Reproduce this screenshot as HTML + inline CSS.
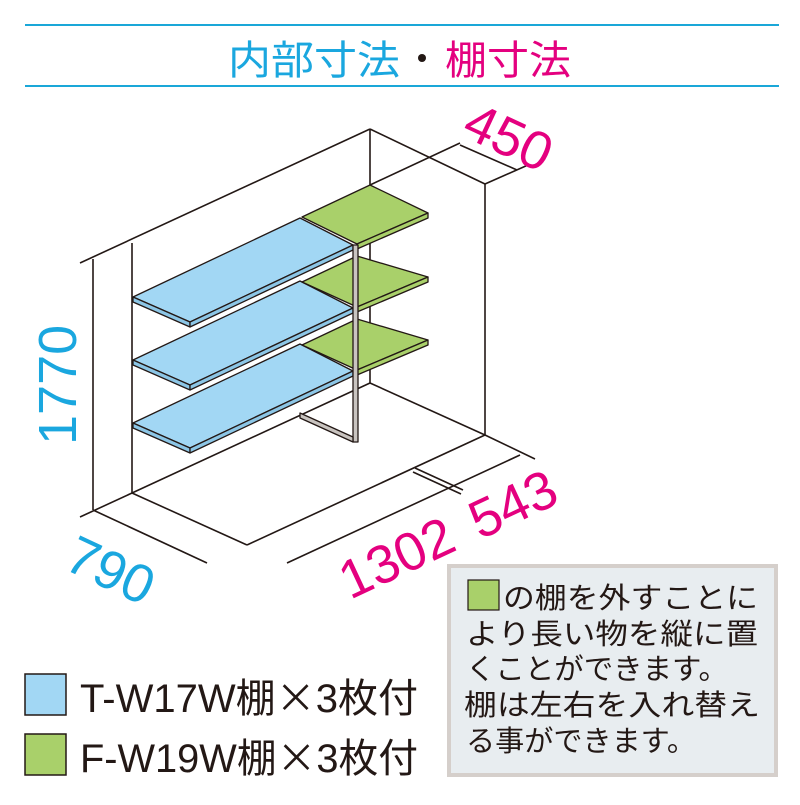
<!DOCTYPE html>
<html><head><meta charset="utf-8"><style>
body{margin:0;background:#fff;}
svg text{font-family:"Liberation Sans","Noto Sans CJK JP",sans-serif;}
</style></head><body>
<svg width="800" height="800" viewBox="0 0 800 800" xmlns="http://www.w3.org/2000/svg">
<line x1="25" y1="25" x2="779" y2="25" stroke="#1aa7d8" stroke-width="2"/>
<line x1="25" y1="86" x2="779" y2="86" stroke="#1aa7d8" stroke-width="2"/>
<text x="228" y="74" font-size="40" fill="#1aa7df" textLength="172" lengthAdjust="spacingAndGlyphs">内部寸法</text>
<circle cx="422" cy="58" r="4" fill="#231815"/>
<text x="445" y="74" font-size="40" fill="#e4007f" textLength="126" lengthAdjust="spacingAndGlyphs">棚寸法</text>

<g stroke="#231815" stroke-width="1.6" fill="none">
<line x1="80" y1="263" x2="370" y2="129"/>
<line x1="370" y1="129" x2="370" y2="383"/>
<line x1="370" y1="129" x2="485" y2="184"/>
<line x1="485" y1="184" x2="485" y2="435"/>
<line x1="370" y1="383" x2="485" y2="435"/>
<line x1="485" y1="435" x2="535" y2="459"/>
<line x1="93" y1="259" x2="93" y2="510"/>
<line x1="132" y1="243" x2="132" y2="493"/>
<line x1="80" y1="517" x2="132" y2="493"/>
<line x1="132" y1="493" x2="370" y2="383"/>
<line x1="93" y1="510" x2="207" y2="563"/>
<line x1="132" y1="493" x2="247" y2="545"/>
<line x1="247" y1="545" x2="485" y2="435"/>
<line x1="287" y1="563" x2="520" y2="455"/>
<line x1="415" y1="468" x2="463" y2="490"/>
<line x1="413" y1="472" x2="461" y2="494"/>
<line x1="370" y1="185" x2="460" y2="143"/>
<line x1="485" y1="184" x2="528" y2="165"/>
<line x1="460" y1="145" x2="517" y2="170"/>
</g>

<g stroke="#231815" stroke-width="1.3" stroke-linejoin="round">
<g fill="#a2d7f4">
<polygon points="133,297 300,218 353,245 190,322"/>
<polygon points="133,297 190,322 190,327 133,302" fill="#8cc6e6"/>
<polygon points="190,322 353,245 353,250 190,327" fill="#8cc6e6"/>
<polygon points="133,360 300,281 353,308 190,385"/>
<polygon points="133,360 190,385 190,390 133,365" fill="#8cc6e6"/>
<polygon points="190,385 353,308 353,313 190,390" fill="#8cc6e6"/>
<polygon points="133,423 300,344 353,371 190,448"/>
<polygon points="133,423 190,448 190,453 133,428" fill="#8cc6e6"/>
<polygon points="190,448 353,371 353,376 190,453" fill="#8cc6e6"/>
</g>
<g fill="#a9d06a">
<polygon points="302,217 370,185 428,213 357,244"/>
<polygon points="357,244 428,213 428,218 357,249"/>
<polygon points="302,282 357,256 428,277 357,307"/>
<polygon points="357,307 428,277 428,282 357,312"/>
<polygon points="302,345 357,319 428,340 357,370"/>
<polygon points="357,370 428,340 428,345 357,375"/>
</g>
<rect x="353" y="245" width="5" height="197" fill="#c9c4c0"/>
<polygon points="300,413 353,437 353,442 300,418" fill="#c9c4c0"/>
</g>

<g font-size="54" fill="#e4007f">
<text transform="translate(460,135) rotate(25)">450</text>
<text transform="translate(350,600) rotate(-25)">1302</text>
<text transform="translate(480,540) rotate(-25)">543</text>
</g>
<g font-size="54" fill="#1aa7df">
<text transform="translate(76,445) rotate(-90)">1770</text>
<text transform="translate(62,568) rotate(25)">790</text>
</g>

<rect x="25" y="674" width="41" height="41" fill="#a2d7f4" stroke="#231815" stroke-width="1.5"/>
<rect x="25" y="734" width="41" height="41" fill="#a9d06a" stroke="#231815" stroke-width="1.5"/>
<text x="80" y="712" font-size="40" fill="#231815" textLength="338" lengthAdjust="spacingAndGlyphs">T-W17W棚<tspan style="font-family:'Noto Sans CJK JP',sans-serif">×</tspan>3枚付</text>
<text x="80" y="772" font-size="40" fill="#231815" textLength="338" lengthAdjust="spacingAndGlyphs">F-W19W棚<tspan style="font-family:'Noto Sans CJK JP',sans-serif">×</tspan>3枚付</text>

<rect x="449" y="566" width="327" height="209" fill="#e8edf0" stroke="#d5cfcb" stroke-width="4"/>
<rect x="468" y="580" width="31" height="30" fill="#a9d06a" stroke="#231815" stroke-width="1.2"/>
<g font-size="29" fill="#231815">
<text x="503" y="608" textLength="255" lengthAdjust="spacingAndGlyphs">の棚を外すことに</text>
<text x="466" y="644" textLength="292" lengthAdjust="spacingAndGlyphs">より長い物を縦に置</text>
<text x="466" y="679" textLength="262" lengthAdjust="spacingAndGlyphs">くことができます。</text>
<text x="464" y="715" textLength="296" lengthAdjust="spacingAndGlyphs">棚は左右を入れ替え</text>
<text x="466" y="751" textLength="230" lengthAdjust="spacingAndGlyphs">る事ができます。</text>
</g>
</svg>
</body></html>
